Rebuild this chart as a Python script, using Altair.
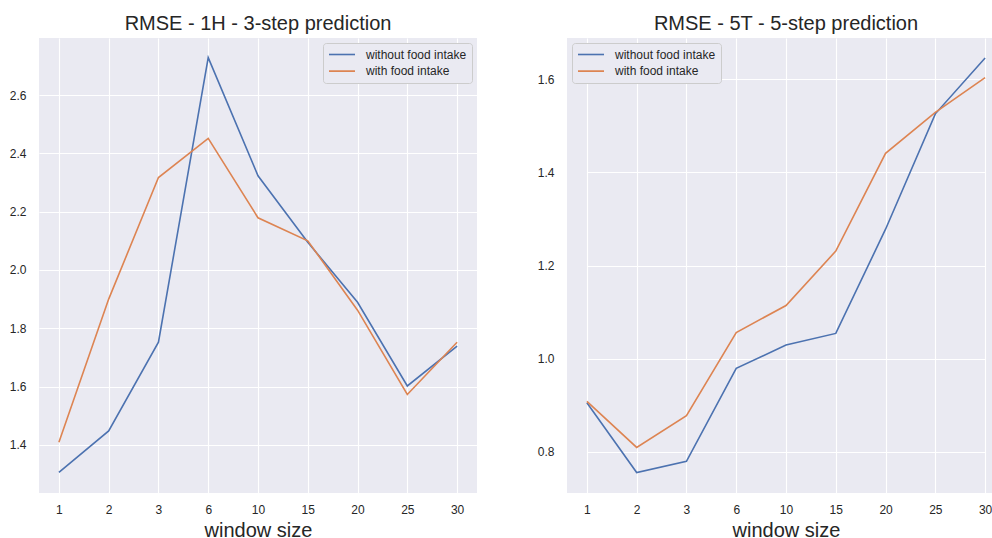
import altair as alt
import pandas as pd

windows = ["1", "2", "3", "6", "10", "15", "20", "25", "30"]
series_names = ["without food intake", "with food intake"]

left_title = "RMSE - 1H - 3-step prediction"
left_without = [1.306, 1.448, 1.752, 2.728, 2.323, 2.095, 1.889, 1.602, 1.739]
left_with = [1.409, 1.900, 2.317, 2.451, 2.179, 2.100, 1.862, 1.573, 1.752]

right_title = "RMSE - 5T - 5-step prediction"
right_without = [0.905, 0.755, 0.779, 0.979, 1.029, 1.054, 1.278, 1.526, 1.646]
right_with = [0.908, 0.809, 0.877, 1.056, 1.114, 1.231, 1.441, 1.529, 1.604]

left_yticks = [1.4, 1.6, 1.8, 2.0, 2.2, 2.4, 2.6]
right_yticks = [0.8, 1.0, 1.2, 1.4, 1.6]

FONT = "Liberation Sans"
TXT = "#262626"
colors = ["#4C72B0", "#DD8452"]


def make_df(without_vals, with_vals):
    rows = []
    for name, vals in zip(series_names, [without_vals, with_vals]):
        for i, (w, v) in enumerate(zip(windows, vals)):
            rows.append({"window": w, "series": name, "rmse": v, "idx": i})
    return pd.DataFrame(rows)


def panel(title, without_vals, with_vals, ydomain, yticks, legend_orient,
          width, xscale, title_dx):
    df = make_df(without_vals, with_vals)
    return (
        alt.Chart(df)
        .mark_line(strokeWidth=1.6)
        .encode(
            x=alt.X(
                "window:N",
                sort=windows,
                scale=xscale,
                axis=alt.Axis(
                    title="window size",
                    labelAngle=0,
                    titleX=219,
                ),
            ),
            y=alt.Y(
                "rmse:Q",
                scale=alt.Scale(domain=ydomain, nice=False, zero=False),
                axis=alt.Axis(values=yticks, format=".1f", title=None,
                              minExtent=39, maxExtent=39),
            ),
            color=alt.Color(
                "series:N",
                sort=series_names,
                scale=alt.Scale(domain=series_names, range=colors),
                legend=alt.Legend(
                    title=None,
                    orient=legend_orient,
                    offset=5,
                    fillColor="#EAEAF2",
                    strokeColor="#CCCCCC",
                    cornerRadius=3,
                    padding=5,
                    symbolType="stroke",
                    symbolSize=676,
                    symbolStrokeWidth=1.6,
                    labelFontSize=12,
                    labelFont=FONT,
                    labelColor=TXT,
                    labelOffset=10,
                    clipHeight=13,
                    rowPadding=3.6,
                ),
            ),
            order=alt.Order("idx:Q"),
        )
        .properties(
            width=width,
            height=455,
            title=alt.TitleParams(
                text=title,
                fontSize=20,
                font=FONT,
                color=TXT,
                fontWeight="normal",
                anchor="middle",
                frame="group",
                baseline="alphabetic",
                offset=-12,
                dx=title_dx,
            ),
        )
    )


left = panel(left_title, left_without, left_with, [1.235, 2.7955], left_yticks,
             "top-right", 438, alt.Scale(type="point", padding=0.4), 0)
right = panel(right_title, right_without, right_with, [0.711, 1.689], right_yticks,
              "top-left", 425, alt.Scale(type="point", padding=0, range=[19.9, 418.1]), 6.5)

chart = (
    alt.hconcat(left, right, spacing=51)
    .resolve_scale(color="independent", x="independent", y="independent")
    .resolve_legend(color="independent")
    .properties(padding={"left": 0, "top": 14, "right": 0, "bottom": 0})
    .configure_view(fill="#EAEAF2", stroke=None)
    .configure_axis(
        grid=True,
        gridColor="white",
        gridWidth=1.1,
        domain=False,
        ticks=False,
        labelFont=FONT,
        labelFontSize=12,
        labelColor=TXT,
        titleFont=FONT,
        titleFontSize=20,
        titleFontWeight="normal",
        titleColor=TXT,
    )
    .configure_axisY(labelPadding=13)
    .configure_axisX(labelPadding=11, titlePadding=21, titleBaseline="alphabetic")
)

chart.save("out.html", embed_options={"renderer": "svg", "actions": False})
